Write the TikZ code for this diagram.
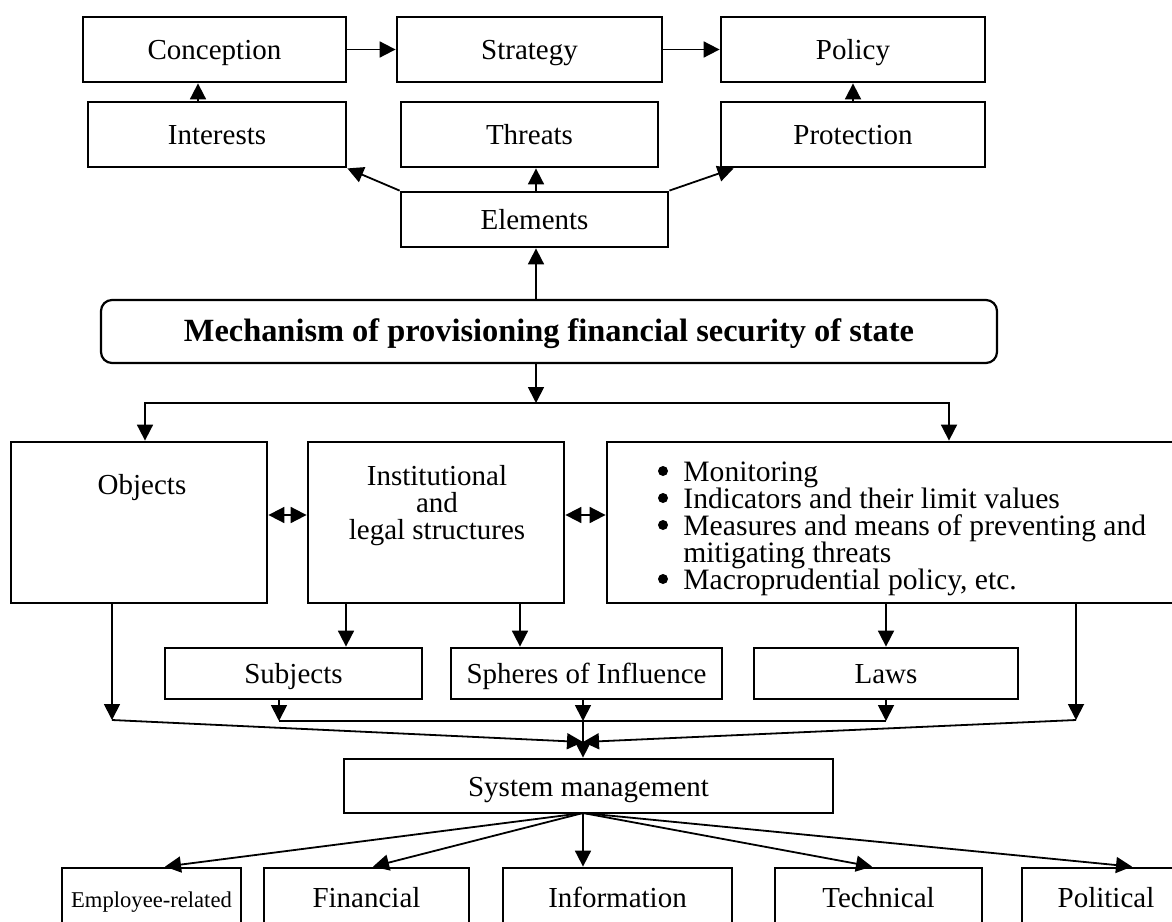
\documentclass[tikz,border=0pt]{standalone}
\usepackage{fontspec}
\setmainfont{Liberation Serif}
\usetikzlibrary{arrows.meta,calc}
\begin{document}
\begin{tikzpicture}[x=0.5pt,y=-0.5pt,
  bx/.style={draw, line width=1.4pt, inner sep=0pt, align=center, text height=1.1em, text depth=0.07em,
             font=\fontsize{14.5}{16}\selectfont},
  conn/.style={line width=0.9pt},
  arr/.style={conn, -{Triangle[length=8pt,width=8pt]}},
  darr/.style={conn, {Triangle[length=8pt,width=8pt]}-{Triangle[length=8pt,width=8pt]}},
  txt/.style={inner sep=0pt, font=\fontsize{14.5}{13.5}\selectfont},
  ltxt/.style={inner sep=0pt, anchor=base west, text height=0.66em, text depth=0.2em, font=\fontsize{14.8}{14}\selectfont},
  dot/.style={fill=black}
]
\useasboundingbox (0,0) rectangle (1172,921);
\fill[white] (0,0) rectangle (1172,921);
\clip (0,0) rectangle (1172,921);

% top rows
\node[bx, minimum width=131.5pt, minimum height=32.5pt] (conception) at (214.5,49.5) {Conception};
\node[bx, minimum width=132.5pt, minimum height=32.5pt] (strategy) at (529.5,49.5) {Strategy};
\node[bx, minimum width=132pt, minimum height=32.5pt] (policy) at (853,49.5) {Policy};
\node[bx, minimum width=129pt, minimum height=32.5pt] (interests) at (217,134.5) {Interests};
\node[bx, minimum width=128.5pt, minimum height=32.5pt] (threats) at (529.5,134.5) {Threats};
\node[bx, minimum width=132pt, minimum height=32.5pt] (protection) at (853,134.5) {Protection};
\node[bx, minimum width=133.5pt, minimum height=27.5pt] (elements) at (534.5,219.5) {Elements};

% mechanism
\node[draw, line width=1.1pt, rounded corners=5.5pt, inner sep=0pt, minimum width=448pt, minimum height=31.5pt,
      text height=1.05em, text depth=0.07em,
      font=\fontsize{16.2}{18}\selectfont\bfseries] (mech) at (549,331.5) {Mechanism of provisioning financial security of state};

% middle boxes
\node[bx, minimum width=128pt, minimum height=80.5pt] (objects) at (139,522.5) {};
\node[bx, minimum width=128pt, minimum height=80.5pt] (inst) at (436,522.5) {};
\node[bx, minimum width=289pt, minimum height=80.5pt] (listbox) at (896,522.5) {};
\node[txt] (objtxt) at (142,488) {Objects};
\node[txt, align=center] (insttxt) at (437,506) {Institutional\\and\\legal structures};
\node[ltxt] (lt1) at (683,481) {Monitoring};
\node[ltxt] (lt2) at (683,508) {Indicators and their limit values};
\node[ltxt] (lt3) at (683,535) {Measures and means of preventing and};
\node[ltxt] (lt4) at (683,562) {mitigating threats};
\node[ltxt] (lt5) at (683,589) {Macroprudential policy, etc.};
\foreach \l in {lt1,lt2,lt3,lt5}
  \fill[dot] ([xshift=-10pt,yshift=5pt]\l.base west) circle[radius=2.5pt];

% second-level boxes
\node[bx, minimum width=128.5pt, minimum height=25.5pt] (subjects) at (293.5,673.5) {Subjects};
\node[bx, minimum width=135.5pt, minimum height=25.5pt] (spheres) at (586.5,673.5) {Spheres of Influence};
\node[bx, minimum width=132pt, minimum height=25.5pt] (laws) at (886,673.5) {Laws};
\node[bx, minimum width=244.5pt, minimum height=27pt] (sys) at (588.5,786) {System management};

% bottom boxes
\node[bx, minimum width=89.5pt, minimum height=29pt, font=\fontsize{11.3}{13}\selectfont] (emp) at (151.5,897) {Employee-related};
\node[bx, minimum width=102.5pt, minimum height=29pt] (fin) at (366.5,897) {Financial};
\node[bx, minimum width=114.5pt, minimum height=29pt] (info) at (617.5,897) {Information};
\node[bx, minimum width=103.5pt, minimum height=29pt] (tech) at (878.5,897) {Technical};
\node[bx, minimum width=84pt, minimum height=29pt] (pol) at (1106,897) {Political};

% coordinates
\coordinate (bus) at (536,403);
\coordinate (o1) at (112,720);
\coordinate (l1) at (1076,720);
\coordinate (s1) at (279,721);
\coordinate (p1) at (583,721);
\coordinate (w1) at (886,721);
\coordinate (jn) at (583,742);
\coordinate (fo) at (583,813);

% top connectors
\draw[arr] (conception.east) -- (strategy.west);
\draw[arr] (strategy.east) -- (policy.west);
\draw[arr] ([xshift=-9.5pt]interests.north) -- ([xshift=-9.5pt]interests.north |- conception.south);
\draw[arr] (protection.north) -- (policy.south);
\draw[arr] (elements.north -| bus) -- (threats.south -| bus);
\draw[arr] (elements.north west) -- (interests.south east);
\draw[arr] (elements.north east) -- ([xshift=7pt]protection.south west);
\draw[arr] (mech.north -| bus) -- (elements.south -| bus);

% mechanism to bus
\draw[arr] (mech.south -| bus) -- (bus);
\draw[arr] (bus) -| ([xshift=3pt]objects.north);
\draw[arr] (bus) -| ([xshift=26.5pt]listbox.north);

% double arrows
\draw[darr] ([yshift=3.75pt]objects.east) -- ([yshift=3.75pt]inst.west);
\draw[darr] ([yshift=3.75pt]inst.east) -- ([yshift=3.75pt]listbox.west);

% to second level
\draw[arr] ([xshift=-45pt]inst.south) -- ([xshift=-45pt]inst.south |- subjects.north);
\draw[arr] ([xshift=42pt]inst.south) -- ([xshift=42pt]inst.south |- spheres.north);
\draw[arr] (laws.north |- listbox.south) -- (laws.north);

% to system management
\draw[arr] (objects.south -| o1) -- (o1);
\draw[arr] (o1) -- (jn);
\draw[arr] (listbox.south -| l1) -- (l1);
\draw[arr] (l1) -- (jn);
\draw[arr] (subjects.south -| s1) -- (s1);
\draw[arr] (spheres.south -| p1) -- (p1);
\draw[arr] (laws.south -| w1) -- (w1);
\draw[conn] (s1) -- (w1);
\draw[arr] (p1) -- (sys.north -| p1);

% fan out
\draw[arr] (fo) -- ([xshift=6.75pt]emp.north);
\draw[arr] (fo) -- ([xshift=3.25pt]fin.north);
\draw[arr] (fo) -- (info.north -| fo);
\draw[arr] (fo) -- ([xshift=-3.25pt]tech.north);
\draw[arr] (fo) -- ([xshift=13pt]pol.north);
\end{tikzpicture}
\end{document}
